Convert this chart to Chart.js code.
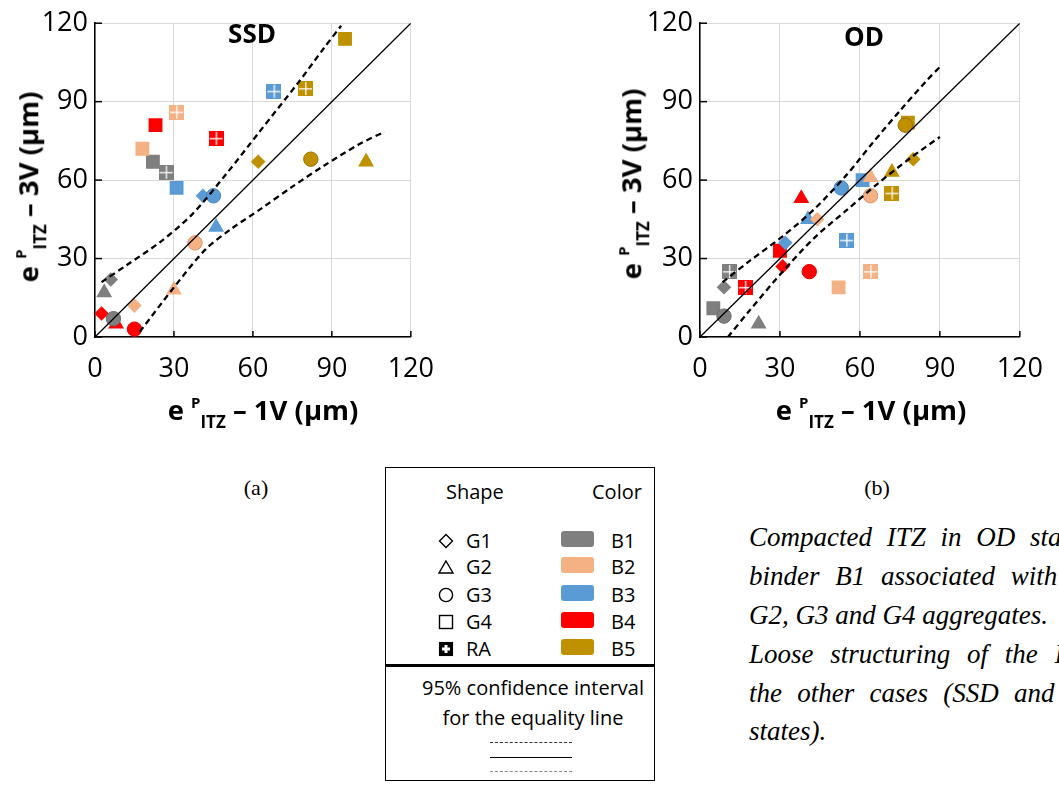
<!DOCTYPE html>
<html>
<head>
<meta charset="utf-8">
<script src="https://cdn.jsdelivr.net/npm/chart.js@4.4.1/dist/chart.umd.min.js"></script>
<style>
  body { margin:0; width:1059px; height:796px; overflow:hidden; background:#fff; position:relative; font-family:'Open Sans', sans-serif; color:#000; }
  .wrap { position:absolute; top:0; height:392px; }
  #w1 { left:0; width:450px; }
  #w2 { left:600px; width:459px; }
  .t { position:absolute; white-space:nowrap; line-height:1; transform:translate(-50%,-50%); }
  .ax { font-weight:bold; font-size:27.5px; }
  .ax sup { font-size:15px; position:relative; top:-12px; vertical-align:baseline; }
  .ax sub { font-size:17px; position:relative; top:8px; vertical-align:baseline; }
  .rot { transform:translate(-50%,-50%) rotate(-90deg); }
  .state { font-weight:bold; font-size:26px; }
  .cap { font-family:'Liberation Serif', serif; font-size:22px; }
  #legend { position:absolute; left:385px; top:467px; width:270px; height:314px; border:1.5px solid #000; box-sizing:border-box; }
  #legend .div { position:absolute; left:0; right:0; top:196px; border-top:3px solid #000; }
  .lg { position:absolute; font-size:20px; line-height:1; white-space:nowrap; transform:translateY(-50%); }
  .sw { position:absolute; width:33px; height:16px; border-radius:3px; transform:translateY(-50%); }
  .sym { position:absolute; transform:translate(-50%,-50%); }
  .note { position:absolute; left:749px; font-family:'Liberation Serif', serif; font-style:italic; font-size:27px; white-space:nowrap; line-height:1; transform:translateY(-50%); }
</style>
</head>
<body>
<div class="wrap" id="w1"><canvas id="ssd"></canvas></div>
<div class="wrap" id="w2"><canvas id="od"></canvas></div>

<div class="t state" style="left:252px;top:33px">SSD</div>
<div class="t state" style="left:864px;top:36px">OD</div>

<div class="t ax" style="left:263px;top:410px">e <sup>P</sup><sub>ITZ</sub> – 1V (µm)</div>
<div class="t ax" style="left:871px;top:410px">e <sup>P</sup><sub>ITZ</sub> – 1V (µm)</div>
<div class="t ax rot" style="left:28px;top:187px">e <sup>P</sup><sub>ITZ</sub> – 3V (µm)</div>
<div class="t ax rot" style="left:631px;top:184px">e <sup>P</sup><sub>ITZ</sub> – 3V (µm)</div>

<div class="t cap" style="left:256px;top:488px">(a)</div>
<div class="t cap" style="left:877px;top:488px">(b)</div>

<div id="legend"><div class="div"></div></div>

<div class="note" style="top:537px;word-spacing:8px">Compacted ITZ in OD state:</div>
<div class="note" style="top:576px;word-spacing:9px">binder B1 associated with the</div>
<div class="note" style="top:615px">G2, G3 and G4 aggregates.</div>
<div class="note" style="top:654px;word-spacing:10px">Loose structuring of the ITZ in</div>
<div class="note" style="top:693px;word-spacing:8.5px">the other cases (SSD and OD</div>
<div class="note" style="top:731px">states).</div>

<script>
// binders (colours) and aggregates (shapes)
const binders = ['B1', 'B2', 'B3', 'B4', 'B5'];
const aggregates = ['G1', 'G2', 'G3', 'G4', 'RA'];
const binderColors = ['#7f7f7f', '#f4b183', '#5b9bd5', '#ff0000', '#bf9000'];
const circleEdge = ['#6a6a6a', '#d9956a', '#4a84bb', '#e00000', '#987200'];

// SSD state : [e 1V, e 3V] for B1..B5
const ssdG1 = [[6, 22], [15, 12], [41, 54], [2.5, 9], [62, 67]];
const ssdG2 = [[3.5, 17], [30, 18], [46, 42], [8, 5], [103, 67]];
const ssdG3 = [[7, 7], [38, 36], [45, 54], [15, 3], [82, 68]];
const ssdG4 = [[22, 67], [18, 72], [31, 57], [23, 81], [95, 114]];
const ssdRA = [[27, 63], [31, 86], [68, 94], [46, 76], [80, 95]];

// OD state
const odG1 = [[9, 19], [44, 45], [32, 36], [31, 27], [80, 68]];
const odG2 = [[22, 5], [64, 61], [40.5, 45], [38, 53], [72, 63]];
const odG3 = [[9, 8], [64, 54], [53, 57], [41, 25], [77, 81]];
const odG4 = [[5, 11], [52, 19], [61, 60], [30, 33], [78, 82]];
const odRA = [[11, 25], [64, 25], [55, 37], [17, 19], [72, 55]];

// equality line and 95% confidence limits
const equality = [[0, 0], [120, 120]];
const ssdUpper = [[2.5, 21], [12.5, 27.8], [25, 36.5], [37, 47], [50, 62.5], [62.5, 78.5], [77, 97], [87, 110.5], [93.5, 119]];
const ssdLower = [[17, 2], [30, 19], [42, 33.5], [52, 41.5], [63, 49], [75, 57.5], [87, 65.5], [100, 73.5], [110, 78.5]];
const odUpper = [[8.5, 21], [18.5, 29], [31, 38.5], [43, 49], [55, 62], [65, 74.5], [75, 86.5], [85, 98], [90.5, 103.8]];
const odLower = [[10.5, 0], [18.5, 10], [31, 25], [43, 38], [55, 48.5], [66.5, 58.5], [79, 68.5], [90, 76.5]];

const axisTicks = [0, 30, 60, 90, 120];

function raMarker(color) {
    var c = document.createElement('canvas');
    c.width = 15; c.height = 15;
    var g = c.getContext('2d');
    g.fillStyle = color;
    g.fillRect(0, 0, 15, 15);
    g.fillStyle = 'rgba(255,255,255,0.85)';
    g.fillRect(7, 1, 1.5, 13);
    g.fillRect(1, 7, 13, 1.5);
    return c;
}
const raStyles = binderColors.map(raMarker);

function pts(arr) {
    return arr.map(function (p) { return { x: p[0], y: p[1] }; });
}

function markerSet(label, arr, style) {
    var ds = {
        label: label,
        data: pts(arr),
        backgroundColor: binderColors,
        borderColor: binderColors,
        borderWidth: 0,
        pointStyle: style,
        pointRadius: 7
    };
    if (style === 'circle') { ds.borderColor = circleEdge; ds.borderWidth = 1; ds.pointRadius = 7.2; }
    if (style === 'rect') ds.pointRadius = 9.8;
    if (style === 'rectRot') ds.pointRadius = 7.3;
    if (style === 'triangle') ds.pointRadius = 9.2;
    if (label === 'RA') { ds.pointStyle = raStyles; ds.pointRadius = 7; }
    return ds;
}

function lineSet(arr, dashed) {
    return {
        type: 'scatter',
        data: pts(arr),
        showLine: true,
        borderColor: '#000',
        borderWidth: dashed ? 2.3 : 1.3,
        borderDash: dashed ? [6, 4] : [],
        pointRadius: 0,
        tension: dashed ? 0.3 : 0,
        fill: false
    };
}

const innerTicks = {
    id: 'innerTicks',
    beforeDatasetsDraw: function (chart) {
        var ctx = chart.ctx, x = chart.scales.x, y = chart.scales.y;
        ctx.save();
        ctx.strokeStyle = '#000';
        ctx.lineWidth = 1.5;
        axisTicks.forEach(function (v) {
            var px = x.getPixelForValue(v);
            ctx.beginPath(); ctx.moveTo(px, y.bottom); ctx.lineTo(px, y.bottom - 6); ctx.stroke();
            var py = y.getPixelForValue(v);
            ctx.beginPath(); ctx.moveTo(x.left, py); ctx.lineTo(x.left + 7, py); ctx.stroke();
        });
        ctx.restore();
    }
};

function makeChart(id, sets, upper, lower, yWidth, padRight) {
    var ctx = document.getElementById(id).getContext('2d');
    // first dataset is painted last, so lines stay on top of the markers
    var datasets = [
        lineSet(equality, false),
        lineSet(upper, true),
        lineSet(lower, true),
        markerSet('G3', sets[2], 'circle'),
        markerSet('G1', sets[0], 'rectRot'),
        markerSet('G2', sets[1], 'triangle'),
        markerSet('RA', sets[4], 'rect'),
        markerSet('G4', sets[3], 'rect')
    ];
    var scaleBase = {
        type: 'linear',
        min: 0,
        max: 120,
        grid: { color: '#d9d9d9', lineWidth: 1, drawTicks: false },
        border: { display: true, color: '#000', width: 1.5 },
        ticks: {
            stepSize: 30,
            color: '#000',
            font: { family: 'Open Sans', size: 27 }
        }
    };
    return new Chart(ctx, {
        type: 'scatter',
        data: { datasets: datasets },
        options: {
            responsive: true,
            maintainAspectRatio: false,
            animation: false,
            events: [],
            layout: { padding: { top: 18, right: padRight, left: 0, bottom: 0 } },
            plugins: { legend: { display: false }, tooltip: { enabled: false } },
            scales: {
                x: Object.assign({}, scaleBase, {
                    ticks: Object.assign({}, scaleBase.ticks, { padding: 16 }),
                    afterFit: function (s) { s.height = 55; }
                }),
                y: Object.assign({}, scaleBase, {
                    ticks: Object.assign({}, scaleBase.ticks, { padding: 7 }),
                    afterFit: function (s) { s.width = yWidth; }
                })
            }
        },
        plugins: [innerTicks]
    });
}

makeChart('ssd', [ssdG1, ssdG2, ssdG3, ssdG4, ssdRA], ssdUpper, ssdLower, 95, 32);
makeChart('od', [odG1, odG2, odG3, odG4, odRA], odUpper, odLower, 100, 34);

// legend box
var legend = document.getElementById('legend');
function add(html) { legend.insertAdjacentHTML('beforeend', html); }
var rowY = [73, 99, 127, 154, 181];
var symbols = [
    '<svg width="16" height="16"><path d="M8 1.5 L14.5 8 L8 14.5 L1.5 8 Z" fill="none" stroke="#000" stroke-width="1.4"/></svg>',
    '<svg width="17" height="15"><path d="M8.5 1.5 L15.5 13.5 L1.5 13.5 Z" fill="none" stroke="#000" stroke-width="1.4"/></svg>',
    '<svg width="16" height="16"><circle cx="8" cy="8" r="6.6" fill="none" stroke="#000" stroke-width="1.4"/></svg>',
    '<svg width="16" height="16"><rect x="1.5" y="1.5" width="13" height="13" fill="none" stroke="#000" stroke-width="1.4"/></svg>',
    '<svg width="15" height="15"><rect x="1" y="1" width="13" height="13" fill="#000" stroke="#000" stroke-width="1.2"/><path d="M6 3.5 H9 V6 H11.5 V9 H9 V11.5 H6 V9 H3.5 V6 H6 Z" fill="#fff"/></svg>'
];
add('<div class="lg" style="left:60px;top:24px">Shape</div>');
add('<div class="lg" style="left:206px;top:24px">Color</div>');
aggregates.forEach(function (g, i) {
    add('<div class="sym" style="left:60px;top:' + rowY[i] + 'px;line-height:0">' + symbols[i] + '</div>');
    add('<div class="lg" style="left:80px;top:' + rowY[i] + 'px">' + g + '</div>');
});
binders.forEach(function (b, i) {
    add('<div class="sw" style="left:175px;top:' + (rowY[i] - 2) + 'px;background:' + binderColors[i] + '"></div>');
    add('<div class="lg" style="left:225px;top:' + rowY[i] + 'px">' + b + '</div>');
});
add('<div class="lg" style="left:147px;top:220px;transform:translate(-50%,-50%)">95% confidence interval</div>');
add('<div class="lg" style="left:147px;top:250px;transform:translate(-50%,-50%)">for the equality line</div>');
add('<div style="position:absolute;left:104px;top:274px;width:82px;border-top:1px dashed #333"></div>');
add('<div style="position:absolute;left:104px;top:289px;width:82px;border-top:1px solid #000"></div>');
add('<div style="position:absolute;left:104px;top:303px;width:82px;border-top:1px dashed #888"></div>');
</script>
</body>
</html>
